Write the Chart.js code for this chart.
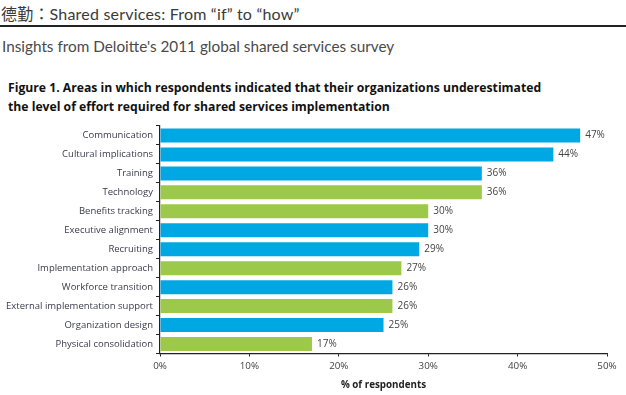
<!DOCTYPE html>
<html>
<head>
<meta charset="utf-8">
<script src="https://cdn.jsdelivr.net/npm/chart.js@4.4.1/dist/chart.umd.min.js"></script>
<style>
  html,body{margin:0;padding:0;background:#fff;width:626px;height:395px;overflow:hidden;}
  #wrap{position:relative;width:626px;height:395px;}
  .t{position:absolute;white-space:nowrap;}
  #h1{left:1px;top:1px;font-family:"Lato","Noto Sans CJK TC",sans-serif;font-weight:400;font-size:16px;letter-spacing:0.2px;color:#3a3a3a;}
  #rule{position:absolute;left:0;top:25px;width:626px;height:2px;background:#222;}
  #h2{left:2px;top:37px;font-family:"Lato",sans-serif;font-weight:400;font-size:15.3px;letter-spacing:0px;color:#4a4a4a;}
  #ft{left:8px;top:79px;font-family:"Open Sans",sans-serif;font-weight:bold;font-size:12.2px;line-height:18.5px;color:#111;}
  canvas{position:absolute;left:0;top:0;}
</style>
</head>
<body>
<div id="wrap">
  <div class="t" id="h1">德勤：Shared services: From “if” to “how”</div>
  <div id="rule"></div>
  <div class="t" id="h2">Insights from Deloitte's 2011 global shared services survey</div>
  <div class="t" id="ft">Figure 1. Areas in which respondents indicated that their organizations underestimated<br>the level of effort required for shared services implementation</div>
  <canvas id="c" width="626" height="395"></canvas>
</div>
<script>
const categories = ["Communication","Cultural implications","Training","Technology","Benefits tracking","Executive alignment","Recruiting","Implementation approach","Workforce transition","External implementation support","Organization design","Physical consolidation"];
const values = [47,44,36,36,30,30,29,27,26,26,25,17];
const groups = ["b","b","b","g","g","b","b","g","b","g","b","g"];
const xTicks = [0,10,20,30,40,50];
const BLUE = "#00A8E3", GREEN = "#9CC94A";

const labelPlugin = {
  id:"vals",
  afterDatasetsDraw(chart){
    const ctx = chart.ctx;
    const meta = chart.getDatasetMeta(0);
    ctx.save();
    ctx.font = "10px 'Open Sans', sans-serif";
    ctx.fillStyle = "#444";
    ctx.textBaseline = "middle";
    ctx.textAlign = "left";
    meta.data.forEach((bar,i)=>{
      ctx.fillText(values[i]+"%", bar.x+5, bar.y);
    });
    ctx.restore();
  }
};

new Chart(document.getElementById("c"),{
  type:"bar",
  data:{
    labels:categories,
    datasets:[{
      data:values,
      backgroundColor:groups.map(g=>g==="b"?BLUE:GREEN),
      borderWidth:0,
      barPercentage:0.74,
      categoryPercentage:1
    }]
  },
  options:{
    indexAxis:"y",
    responsive:false,
    animation:false,
    layout:{padding:{top:126,right:19,bottom:0,left:0}},
    plugins:{legend:{display:false},tooltip:{enabled:false},title:{display:false}},
    scales:{
      x:{
        min:0,max:50,
        afterBuildTicks(s){ s.ticks = xTicks.map(v=>({value:v})); },
        afterFit(s){ s.height = 41.5; },
        grid:{drawOnChartArea:false,drawTicks:true,tickLength:3,color:"#222",lineWidth:1},
        border:{display:true,color:"#222",width:1.2},
        ticks:{callback:v=>v+"%",color:"#444",font:{family:"'Open Sans', sans-serif",size:9.8},padding:4,maxRotation:0,autoSkip:false},
        title:{display:true,text:"% of respondents",color:"#222",font:{family:"'Open Sans', sans-serif",size:9.8,weight:"bold"},padding:{top:6,bottom:4}}
      },
      y:{
        afterFit(s){ s.width = 160; },
        grid:{drawOnChartArea:false,drawTicks:true,tickLength:4,color:"#222",lineWidth:1},
        border:{display:true,color:"#222",width:1.2},
        ticks:{color:"#3a3a4a",font:{family:"'Open Sans', sans-serif",size:9.5},padding:3,autoSkip:false}
      }
    }
  },
  plugins:[labelPlugin]
});
</script>
</body>
</html>
